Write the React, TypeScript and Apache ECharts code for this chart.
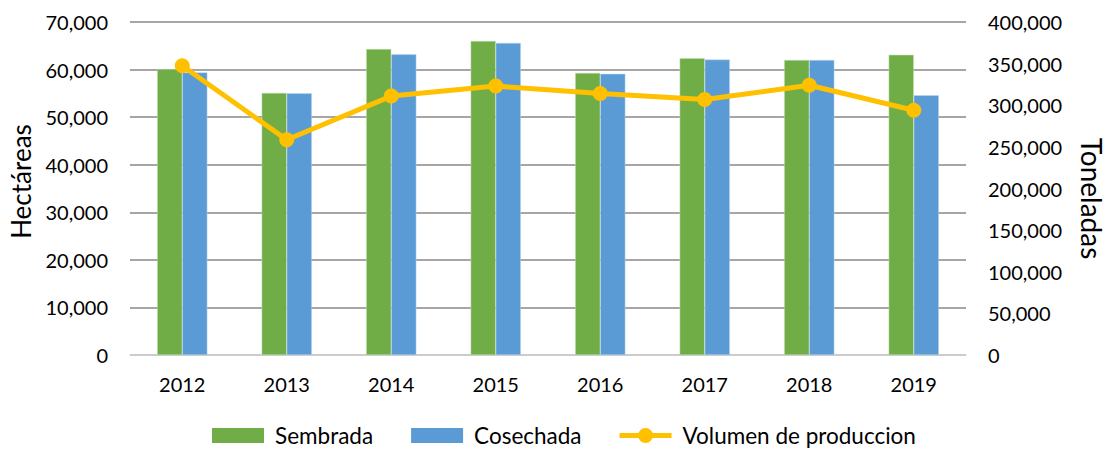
import React, { useEffect, useRef } from "react";
import * as echarts from "echarts";

const categories = ["2012", "2013", "2014", "2015", "2016", "2017", "2018", "2019"];
const sembrada = [60100, 55100, 64300, 66000, 59300, 62400, 62000, 63100];
const cosechada = [59400, 55000, 63200, 65600, 59100, 62100, 62000, 54600];
const volumen = [347500, 258500, 311000, 323000, 314000, 307000, 324000, 294000];

const FONT = "Lato, 'Open Sans', sans-serif";
const LINE_ICON =
  "path://M0,5 H52 V10 H0 Z M18.5,7.5 A7.5,7.5 0 1 1 33.5,7.5 A7.5,7.5 0 1 1 18.5,7.5 Z";

export default function App() {
  const ref = useRef<HTMLDivElement>(null);
  useEffect(() => {
    if (!ref.current) return;
    const chart = echarts.init(ref.current, undefined, { renderer: "svg" });
    const fmt = (v: number) => v.toLocaleString("en-US");
    chart.setOption({
      animation: false,
      textStyle: { fontFamily: FONT },
      grid: { left: 130, right: 136, top: 22, bottom: 96, containLabel: false },
      legend: {
        top: 424,
        left: 212,
        padding: 0,
        itemWidth: 52,
        itemHeight: 15,
        itemGap: 38,
        textStyle: { fontSize: 22.5, color: "#000", fontFamily: FONT, padding: [0, 0, 0, 6] },
        data: [
          { name: "Sembrada", icon: "rect", itemStyle: { borderWidth: 0 } },
          { name: "Cosechada", icon: "rect", itemStyle: { borderWidth: 0 } },
          { name: "Volumen de produccion", icon: LINE_ICON, itemStyle: { color: "#FFC000", borderWidth: 0 } },
        ],
      },
      xAxis: {
        type: "category",
        data: categories,
        axisLine: { lineStyle: { color: "#D9D9D9", width: 1.5 } },
        axisTick: { show: false },
        axisLabel: { fontSize: 20, color: "#000", margin: 19, fontFamily: FONT },
      },
      yAxis: [
        {
          type: "value",
          min: 0,
          max: 70000,
          interval: 10000,
          name: "Hectáreas",
          nameLocation: "middle",
          nameGap: 96,
          nameTextStyle: { fontSize: 26, color: "#000", fontFamily: FONT, padding: [0, 0, 0, 14] },
          axisLabel: { fontSize: 20, color: "#000", margin: 22, formatter: fmt, fontFamily: FONT },
          axisLine: { show: false },
          axisTick: { show: false },
          splitLine: { lineStyle: { color: "#A6A6A6", width: 2 } },
        },
        {
          type: "value",
          min: 0,
          max: 400000,
          interval: 50000,
          name: "Toneladas",
          nameLocation: "middle",
          nameRotate: -90,
          nameGap: 112,
          nameTextStyle: { fontSize: 28, color: "#000", fontFamily: FONT, padding: [0, 0, 0, 20] },
          axisLabel: { fontSize: 20, color: "#000", margin: 22, formatter: fmt, fontFamily: FONT },
          axisLine: { show: false },
          axisTick: { show: false },
          splitLine: { show: false },
        },
      ],
      series: [
        {
          name: "Sembrada",
          type: "bar",
          data: sembrada,
          barGap: "0%",
          barCategoryGap: "52%",
          itemStyle: { color: "#70AD47", borderColor: "#C5E0B4", borderWidth: 0.5 },
        },
        {
          name: "Cosechada",
          type: "bar",
          data: cosechada,
          itemStyle: { color: "#5B9BD5", borderColor: "#BDD7EE", borderWidth: 0.5 },
        },
        {
          name: "Volumen de produccion",
          type: "line",
          yAxisIndex: 1,
          data: volumen,
          symbol: "circle",
          symbolSize: 15,
          lineStyle: { color: "#FFC000", width: 5 },
          itemStyle: { color: "#FFC000" },
        },
      ],
    });
    return () => chart.dispose();
  }, []);
  return (
    <div
      ref={ref}
      style={{ position: "fixed", left: 0, top: 0, width: 1114, height: 451, background: "#fff" }}
    />
  );
}
